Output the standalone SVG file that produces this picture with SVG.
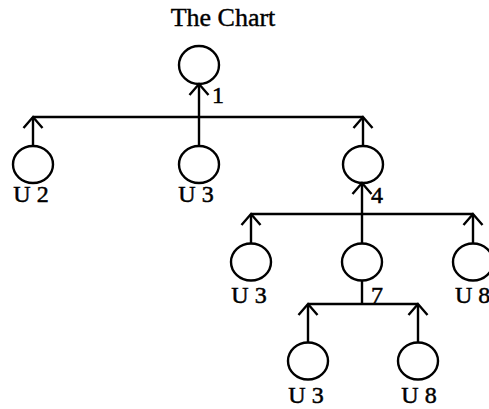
<svg xmlns="http://www.w3.org/2000/svg" width="489" height="409" viewBox="0 0 489 409">
  <style>
    .node { fill: none; stroke: #000; stroke-width: 2.4; }
    .edge { fill: none; stroke: #000; stroke-width: 2.4; }
    .lbl { font-family: "Liberation Serif", "Times New Roman", serif; font-size: 24px; fill: #000; stroke: #000; stroke-width: 0.5; }
    .title { font-family: "Liberation Serif", "Times New Roman", serif; font-size: 26px; fill: #000; stroke: #000; stroke-width: 0.4; }
  </style>
  <defs>
    <marker id="arr" viewBox="-13 -12 26 24" markerWidth="26" markerHeight="24" refX="0" refY="0" orient="auto" markerUnits="userSpaceOnUse">
      <path d="M-11,-9.5 L0,0 L-11,9.5" fill="none" stroke="#000" stroke-width="2.4" stroke-linejoin="miter"/>
    </marker>
  </defs>
  <rect width="489" height="409" fill="#fff"/>
  <text class="title" x="223" y="26" text-anchor="middle">The Chart</text>

  <g id="connectors">
    <line class="edge" x1="33" y1="117" x2="363" y2="117"/>
    <line class="edge" x1="199" y1="146" x2="199" y2="84" marker-end="url(#arr)"/>
    <line class="edge" x1="33" y1="146" x2="33" y2="117" marker-end="url(#arr)"/>
    <line class="edge" x1="363" y1="146" x2="363" y2="117" marker-end="url(#arr)"/>
    <line class="edge" x1="251" y1="214" x2="473" y2="214"/>
    <line class="edge" x1="362" y1="243" x2="362" y2="183" marker-end="url(#arr)"/>
    <line class="edge" x1="251" y1="243" x2="251" y2="214" marker-end="url(#arr)"/>
    <line class="edge" x1="473" y1="243" x2="473" y2="214" marker-end="url(#arr)"/>
    <line class="edge" x1="308" y1="304" x2="418" y2="304"/>
    <line class="edge" x1="362" y1="281" x2="362" y2="304"/>
    <line class="edge" x1="308" y1="342" x2="308" y2="304" marker-end="url(#arr)"/>
    <line class="edge" x1="418" y1="342" x2="418" y2="304" marker-end="url(#arr)"/>
  </g>

  <g id="n1">
    <ellipse class="node" cx="199" cy="65" rx="20" ry="19"/>
    <text class="lbl" x="212" y="103">1</text>
  </g>
  <g id="n2">
    <ellipse class="node" cx="33" cy="164.5" rx="20" ry="18.5"/>
    <text class="lbl" x="31" y="202" text-anchor="middle">U 2</text>
  </g>
  <g id="n3">
    <ellipse class="node" cx="199" cy="164.5" rx="20" ry="18.5"/>
    <text class="lbl" x="196" y="202" text-anchor="middle">U 3</text>
  </g>
  <g id="n4">
    <ellipse class="node" cx="363" cy="164.5" rx="20" ry="18.5"/>
    <text class="lbl" x="371" y="203">4</text>
  </g>
  <g id="n5">
    <ellipse class="node" cx="251" cy="262" rx="20" ry="18.5"/>
    <text class="lbl" x="249" y="303" text-anchor="middle">U 3</text>
  </g>
  <g id="n6">
    <ellipse class="node" cx="362" cy="262" rx="20" ry="18.5"/>
    <text class="lbl" x="371" y="303">7</text>
  </g>
  <g id="n7">
    <ellipse class="node" cx="473" cy="262" rx="20" ry="18.5"/>
    <text class="lbl" x="455" y="303">U 8</text>
  </g>
  <g id="n8">
    <ellipse class="node" cx="308" cy="361" rx="20" ry="18.5"/>
    <text class="lbl" x="306" y="403" text-anchor="middle">U 3</text>
  </g>
  <g id="n9">
    <ellipse class="node" cx="418" cy="361" rx="20" ry="18.5"/>
    <text class="lbl" x="419" y="403" text-anchor="middle">U 8</text>
  </g>
</svg>
